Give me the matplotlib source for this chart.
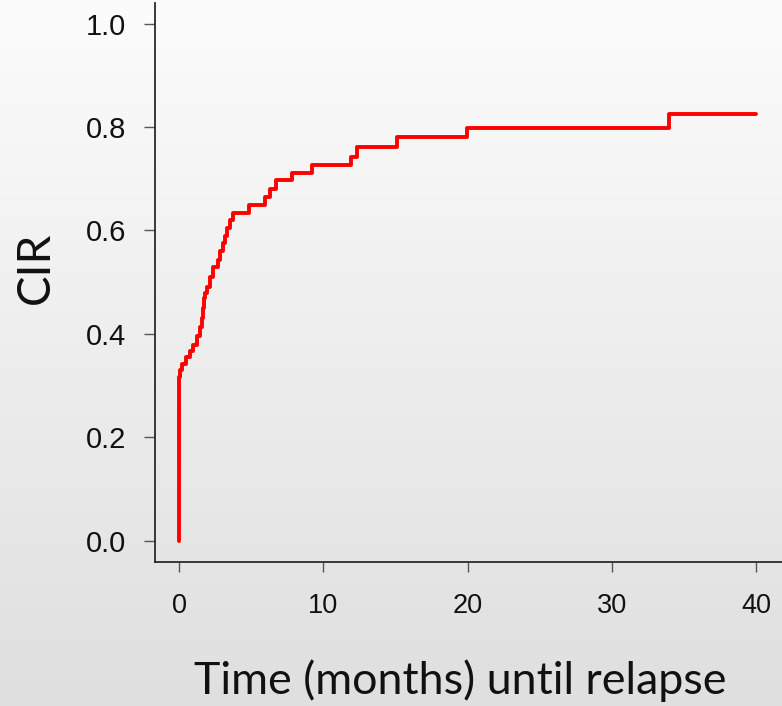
import matplotlib
matplotlib.use("Agg")
import matplotlib.pyplot as plt
import numpy as np

# step times (months) and cumulative incidence of relapse after each step
times = [0.0, 0.0, 0.05, 0.19, 0.46, 0.76, 0.97, 1.23, 1.46, 1.62, 1.66, 1.72,
         1.80, 1.92, 2.15, 2.36, 2.70, 2.84, 3.05, 3.19, 3.33, 3.54, 3.74,
         4.85, 5.95, 6.30, 6.75, 7.81, 9.20, 11.90, 12.36, 15.13, 19.94, 34.0, 40.0]
cir = [0.0, 0.317, 0.330, 0.342, 0.356, 0.366, 0.378, 0.395, 0.414, 0.430, 0.450, 0.470,
       0.480, 0.490, 0.510, 0.530, 0.543, 0.560, 0.575, 0.590, 0.605, 0.620, 0.633,
       0.649, 0.665, 0.680, 0.697, 0.712, 0.727, 0.743, 0.762, 0.781, 0.799, 0.826, 0.826]

x_ticks = [0, 10, 20, 30, 40]
y_ticks = [0.0, 0.2, 0.4, 0.6, 0.8, 1.0]
y_ticklabels = ["0.0", "0.2", "0.4", "0.6", "0.8", "1.0"]

fig = plt.figure(figsize=(7.82, 7.06), dpi=100)

# grey gradient background
bg = fig.add_axes([0, 0, 1, 1], zorder=-1)
grad = np.linspace(0.988, 0.875, 256).reshape(-1, 1)
bg.imshow(np.dstack([grad, grad, grad]), aspect="auto", extent=[0, 1, 0, 1])
bg.axis("off")

ax = fig.add_axes([155 / 782, 144 / 706, 627 / 782, 559 / 706])
ax.set_facecolor("none")
ax.step(times, cir, where="post", color="#ff0000", lw=2.8, solid_capstyle="round")

ax.set_xlim(-1.664, 41.80)
ax.set_ylim(-0.0412, 1.040)
ax.set_xticks(x_ticks)
ax.set_yticks(y_ticks)
ax.set_yticklabels(y_ticklabels)

for s in ["top", "right"]:
    ax.spines[s].set_visible(False)
for s in ["left", "bottom"]:
    ax.spines[s].set_color("#2a2a2a")
    ax.spines[s].set_linewidth(1.3)

ax.tick_params(axis="y", length=8, width=1, color="#555555", pad=13,
               labelsize=21, labelcolor="#111111")
ax.tick_params(axis="x", length=7.5, width=1, color="#555555", pad=15,
               labelsize=19.5, labelcolor="#111111")
for lab in ax.get_xticklabels() + ax.get_yticklabels():
    lab.set_family("Liberation Sans")

fig.text(460 / 782, 1 - 681 / 706, "Time (months) until relapse", ha="center",
         va="center", fontsize=32.3, family="Lato", color="#111111")
fig.text(36 / 782, 1 - 268 / 706, "CIR", ha="center", va="center", rotation=90,
         fontsize=33, family="Lato", color="#111111")

fig.savefig("out.png", dpi=100)
